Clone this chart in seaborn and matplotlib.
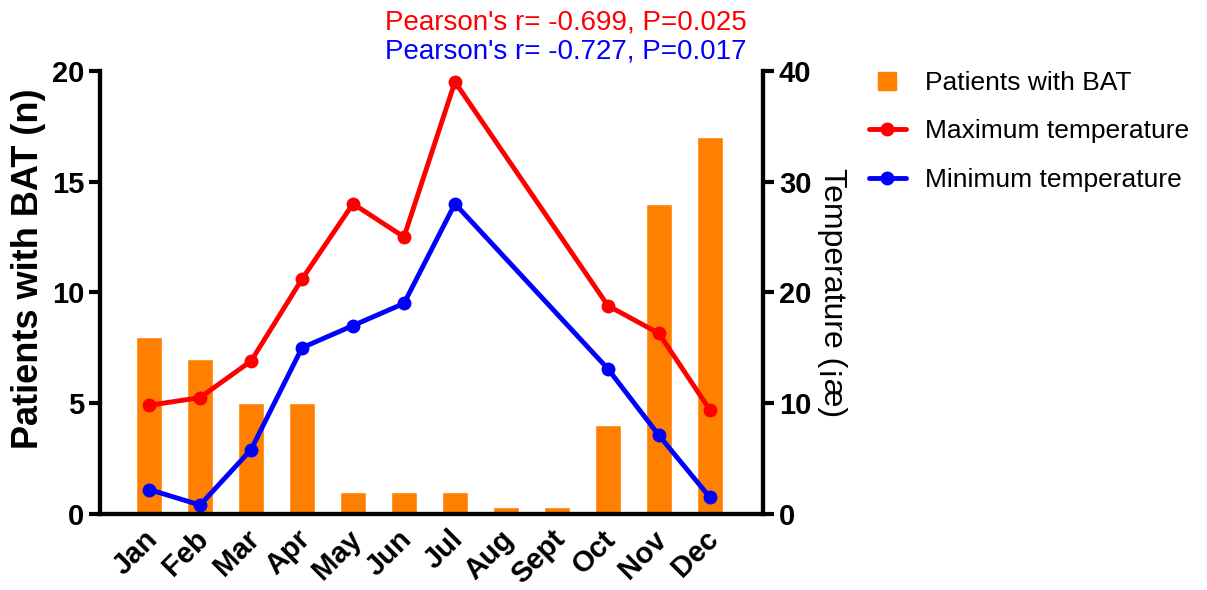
import numpy as np
import pandas as pd
import seaborn as sns
import matplotlib
from matplotlib import pyplot as plt
from matplotlib import transforms
from matplotlib.lines import Line2D

matplotlib.use('Agg')

months = ["Jan", "Feb", "Mar", "Apr", "May", "Jun", "Jul", "Aug", "Sept", "Oct", "Nov", "Dec"]
patients = [8, 7, 5, 5, 1, 1, 1, 0.3, 0.3, 4, 14, 17]
max_temp = [9.8, 10.5, 13.8, 21.2, 28.0, 25.0, 39.0, np.nan, np.nan, 18.8, 16.3, 9.4]
min_temp = [2.2, 0.8, 5.8, 15.0, 17.0, 19.0, 28.0, np.nan, np.nan, 13.1, 7.1, 1.5]

df = pd.DataFrame({"Month": months, "Patients": patients,
                   "Max": max_temp, "Min": min_temp})
df["pos"] = np.arange(len(df))

sns.set_style("white")
plt.rcParams['font.family'] = ['Liberation Sans', 'DejaVu Sans']
plt.rcParams.update({"text.color": "black", "axes.labelcolor": "black",
                     "xtick.color": "black", "ytick.color": "black",
                     "axes.edgecolor": "black"})

fig = plt.figure(figsize=(12.07, 5.9), dpi=100)
ax = fig.add_axes([0.083, 0.129, 0.549, 0.751])

sns.barplot(data=df, x="Month", y="Patients", color="#FF8000", saturation=1,
            width=0.5, ax=ax)
ax.set_ylim(0, 20)
ax.set_xlim(-0.96, 12.04)
ax.set_yticks([0, 5, 10, 15, 20])
ax.set_xlabel("")
ax.set_ylabel("Patients with BAT (n)", fontsize=26, fontweight="bold")
ax.yaxis.set_label_coords(-0.082, 0.553)

ax2 = ax.twinx()
sns.lineplot(data=df, x="pos", y="Max", color="#FF0000", lw=3.5, marker="o",
             markersize=10, markeredgewidth=0, ax=ax2)
sns.lineplot(data=df, x="pos", y="Min", color="#0000FF", lw=3.5, marker="o",
             markersize=10, markeredgewidth=0, ax=ax2)
ax2.set_ylim(0, 40)
ax2.set_xlim(-0.96, 12.04)
ax2.set_yticks([0, 10, 20, 30, 40])
ax2.set_xlabel("")
ax2.set_ylabel("Temperature (¡æ)", fontsize=23, rotation=270, labelpad=26)

for a in (ax, ax2):
    for s in a.spines.values():
        s.set_linewidth(3)
    a.spines["top"].set_visible(False)
    a.tick_params(width=3, length=8, labelsize=21, direction="out")
    for t in a.get_yticklabels():
        t.set_fontweight("bold")
ax.tick_params(axis="x", length=0, pad=8)
ax2.tick_params(left=False, right=True, bottom=False)
ax.tick_params(right=False, left=True)
shift = transforms.ScaledTranslation(-6 / 100, 0, fig.dpi_scale_trans)
for t in ax.get_xticklabels():
    t.set_rotation(45)
    t.set_ha("right")
    t.set_rotation_mode("anchor")
    t.set_fontweight("bold")
    t.set_fontsize(21)
    t.set_transform(t.get_transform() + shift)

fig.text(0.469, 0.962, "Pearson's r= -0.699, P=0.025", color="#FF0000",
         fontsize=20, ha="center", va="center")
fig.text(0.469, 0.912, "Pearson's r= -0.727, P=0.017", color="#0000FF",
         fontsize=20, ha="center", va="center")

handles = [
    Line2D([], [], ls="none", marker="s", markersize=13, color="#FF8000"),
    Line2D([], [], color="#FF0000", lw=3.5, marker="o", markersize=9),
    Line2D([], [], color="#0000FF", lw=3.5, marker="o", markersize=9),
]
labels = ["Patients with BAT", "Maximum temperature", "Minimum temperature"]
fig.legend(handles, labels, loc="upper left", bbox_to_anchor=(0.70, 0.92),
           frameon=False, fontsize=19, labelspacing=0.93, handlelength=1.4,
           handletextpad=0.75, borderpad=0.4)

fig.savefig("out.png", dpi=100)
